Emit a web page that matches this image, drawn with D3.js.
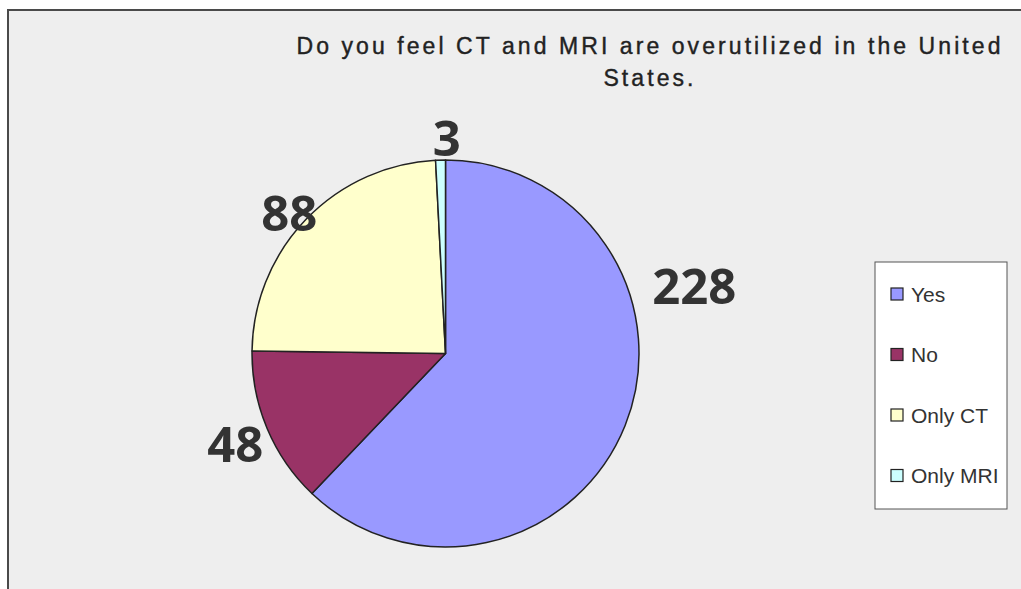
<!DOCTYPE html>
<html>
<head>
<meta charset="utf-8">
<script src="https://cdn.jsdelivr.net/npm/d3@7"></script>
<style>
  html, body { margin: 0; padding: 0; background: #fff; }
  svg { display: block; }
</style>
</head>
<body>
<svg></svg>
<script>
// chart data
const categories = ['Yes', 'No', 'Only CT', 'Only MRI'];
const counts = [228, 48, 88, 3];
const colors = ['#9999ff', '#993366', '#ffffcc', '#ccffff'];
const titleLines = ['Do you feel CT and MRI are overutilized in the United', 'States.'];

const s = {
  width: 1021,
  height: 589,
  cx: 445.5,
  cy: 353.5,
  r: 193.5,
  labelR: 228,
};

// excel drags some labels off the centroid line
const labelNudge = [[37, -152], [0, 2], [8, 18], [7, 13]];

const svg = d3.select('svg')
    .attr('width', s.width)
    .attr('height', s.height);

// chart area
svg.append('rect')
    .attr('x', 8).attr('y', 10)
    .attr('width', s.width).attr('height', s.height)
    .attr('fill', '#eeeeee')
    .attr('stroke', '#4a4a4a')
    .attr('stroke-width', 2);

// title
const title = svg.append('text')
    .attr('font-family', 'Liberation Sans, Arial, sans-serif')
    .attr('font-size', 23)
    .attr('font-weight', 400)
    .attr('fill', '#222')
    .attr('stroke', '#222')
    .attr('stroke-width', 0.4)
    .attr('text-anchor', 'middle');

title.selectAll('tspan')
  .data(titleLines)
  .join('tspan')
    .attr('x', 650)
    .attr('y', (d, i) => 54 + i * 32)
    .text(d => d);

// spread letters so the first line spans the same width as the original
const firstLine = title.select('tspan').node();
const w0 = firstLine.getComputedTextLength();
const spacing = (707 - w0) / titleLines[0].length;
title.attr('letter-spacing', spacing);

// pie
const pie = d3.pie().sort(null).value(d => d);
const arcs = pie(counts);
const arc = d3.arc().innerRadius(0).outerRadius(s.r);
const labelArc = d3.arc().innerRadius(s.labelR).outerRadius(s.labelR);

const g = svg.append('g')
    .attr('transform', `translate(${s.cx},${s.cy})`);

g.selectAll('path')
  .data(arcs)
  .join('path')
    .attr('d', arc)
    .attr('fill', (d, i) => colors[i])
    .attr('stroke', '#222')
    .attr('stroke-width', 1.5)
    .attr('stroke-linejoin', 'round');

g.selectAll('text.lbl')
  .data(arcs)
  .join('text')
    .attr('class', 'lbl')
    .attr('x', (d, i) => labelArc.centroid(d)[0] + labelNudge[i][0])
    .attr('y', (d, i) => labelArc.centroid(d)[1] + labelNudge[i][1])
    .attr('dy', '0.36em')
    .attr('text-anchor', 'middle')
    .attr('font-family', 'Open Sans, sans-serif')
    .attr('font-weight', 700)
    .attr('font-size', 49)
    .attr('fill', '#333')
    .text(d => d.data);

// legend
const legend = svg.append('g')
    .attr('transform', 'translate(875,262)');

legend.append('rect')
    .attr('width', 132)
    .attr('height', 247)
    .attr('fill', '#fff')
    .attr('stroke', '#555')
    .attr('stroke-width', 1);

const item = legend.selectAll('g.item')
  .data(categories)
  .join('g')
    .attr('class', 'item')
    .attr('transform', (d, i) => `translate(16,${32 + i * 60.5})`);

item.append('rect')
    .attr('x', 0).attr('y', -6)
    .attr('width', 12).attr('height', 12)
    .attr('fill', (d, i) => colors[i])
    .attr('stroke', '#222')
    .attr('stroke-width', 1.2);

item.append('text')
    .attr('x', 20)
    .attr('dy', '0.36em')
    .attr('font-family', 'Liberation Sans, Arial, sans-serif')
    .attr('font-size', 21)
    .attr('fill', '#333')
    .text(d => d);
</script>
</body>
</html>
